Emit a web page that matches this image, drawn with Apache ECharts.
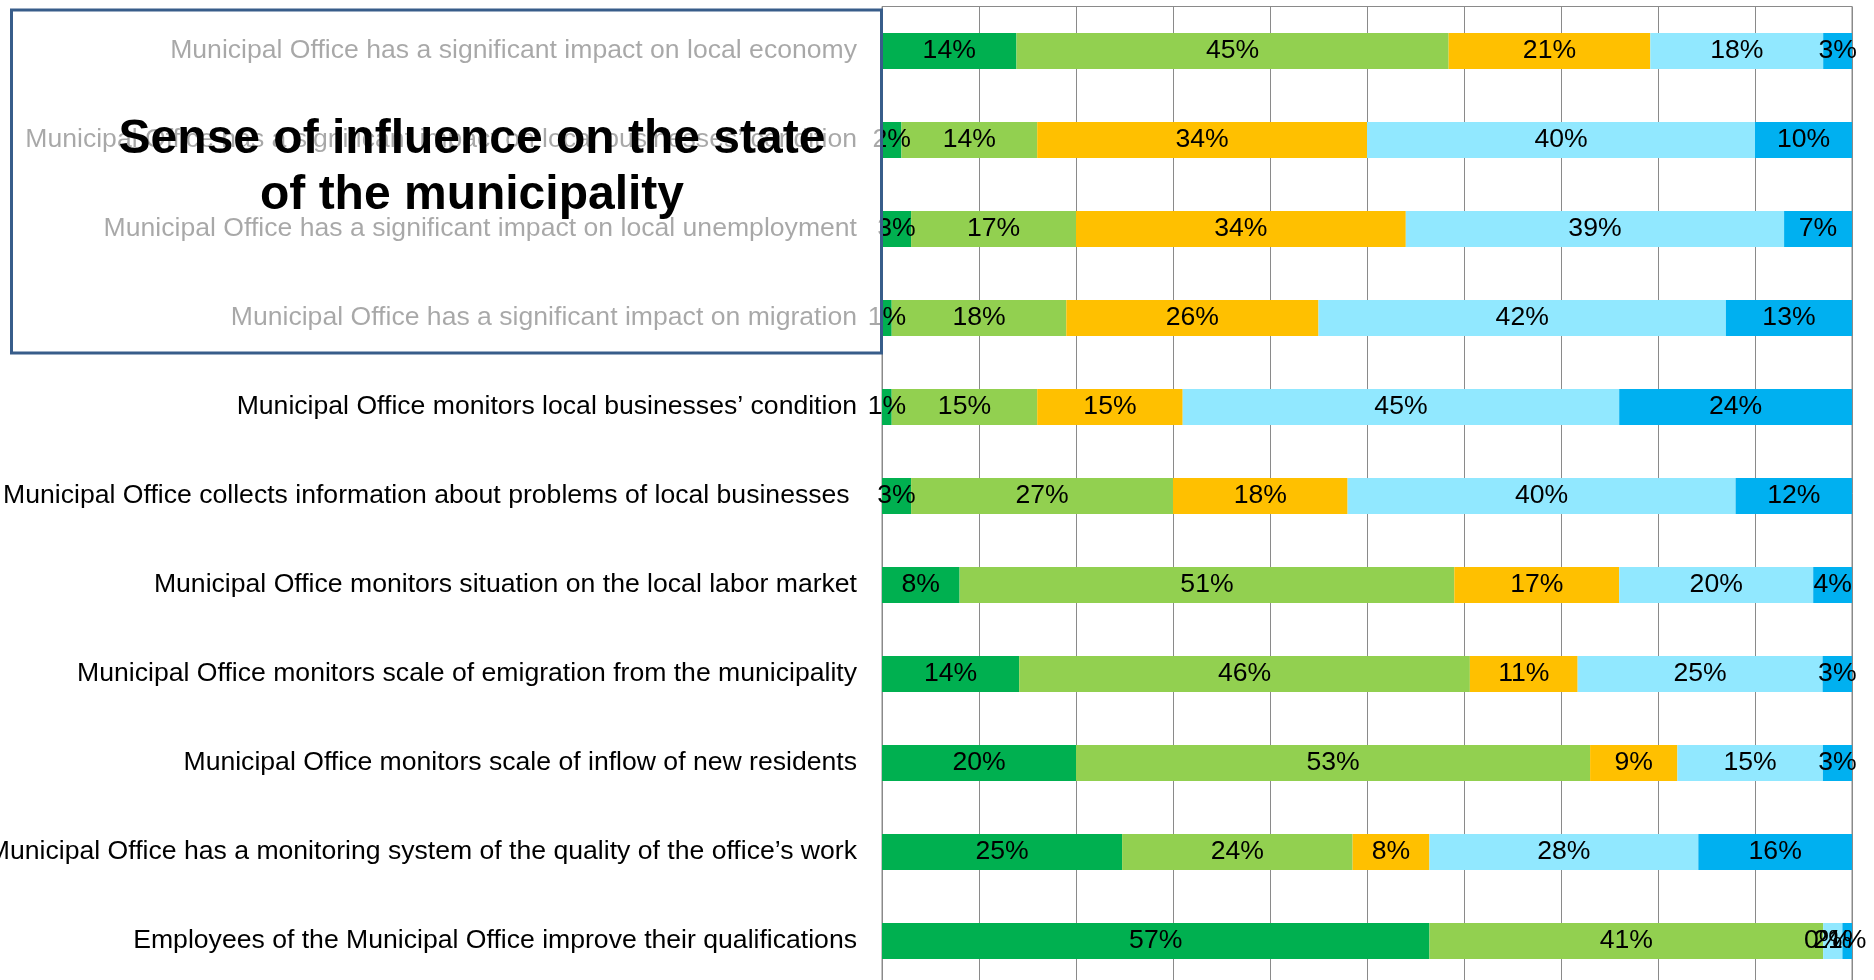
<!DOCTYPE html>
<html>
<head>
<meta charset="utf-8">
<title>Sense of influence on the state of the municipality</title>
<script src="https://cdn.jsdelivr.net/npm/echarts@6/dist/echarts.min.js"></script>
<style>
  html, body { margin: 0; padding: 0; background: #fff; }
  #main { width: 1874px; height: 980px; }
</style>
</head>
<body>
<div id="main"></div>
<script>
// categories, top to bottom
var categories = [
    'Municipal Office has a significant impact on local economy',
    'Municipal Office has a significant impact on local businesses\u2019 condition',
    'Municipal Office has a significant impact on local unemployment',
    'Municipal Office has a significant impact on migration',
    'Municipal Office monitors local businesses\u2019 condition',
    'Municipal Office collects information about problems of local businesses ',
    'Municipal Office monitors situation on the local labor market',
    'Municipal Office monitors scale of emigration from the municipality',
    'Municipal Office monitors scale of inflow of new residents',
    'Municipal Office has a monitoring system of the quality of the office\u2019s work',
    'Employees of the Municipal Office improve their qualifications'
];

// answer shares in %, one array per series (left to right in the bar)
var s1 = [14, 2, 3, 1, 1, 3, 8, 14, 20, 25, 57];
var s2 = [45, 14, 17, 18, 15, 27, 51, 46, 53, 24, 41];
var s3 = [21, 34, 34, 26, 15, 18, 17, 11, 9, 8, 0];
var s4 = [18, 40, 39, 42, 45, 40, 20, 25, 15, 28, 2];
var s5 = [3, 10, 7, 13, 24, 12, 4, 3, 3, 16, 1];

var colors = ['#00B050', '#92D050', '#FFC000', '#91E8FF', '#00B0F0'];
var raw = [s1, s2, s3, s4, s5];

// 100% stacked: each bar is scaled to its own total
var totals = categories.map(function (c, i) {
    return raw.reduce(function (a, s) { return a + s[i]; }, 0);
});

var font = '"Liberation Sans", Arial, sans-serif';

var myChart = echarts.init(document.getElementById('main'));

var series = raw.map(function (arr, k) {
    return {
        name: 's' + (k + 1),
        type: 'bar',
        stack: 'all',
        barWidth: 36,
        itemStyle: { color: colors[k] },
        label: {
            show: true,
            position: 'inside',
            color: '#000',
            fontSize: 26.6,
            fontFamily: font,
            formatter: function (p) { return arr[p.dataIndex] + '%'; }
        },
        data: arr.map(function (v, i) { return v / totals[i] * 100; })
    };
});

var option = {
    backgroundColor: '#fff',
    animation: false,
    textStyle: { fontFamily: font },
    title: {
        text: 'Sense of influence on the state\nof the municipality',
        left: 467,
        top: 107,
        textAlign: 'center',
        z: 20,
        textStyle: {
            fontSize: 48,
            fontWeight: 'bold',
            color: '#000',
            lineHeight: 56,
            fontFamily: font
        }
    },
    grid: {
        left: 882,
        right: 22,
        top: 6.5,
        height: 979,
        outerBoundsMode: 'none',
        containLabel: false,
        show: true,
        borderColor: '#8a8a8a',
        borderWidth: 1
    },
    xAxis: {
        type: 'value',
        min: 0,
        max: 100,
        interval: 10,
        axisLabel: { show: false },
        axisLine: { show: false },
        axisTick: { show: false },
        splitLine: { lineStyle: { color: '#8a8a8a', width: 1 } }
    },
    yAxis: {
        type: 'category',
        inverse: true,
        data: categories,
        axisLine: { lineStyle: { color: '#8a8a8a', width: 1 } },
        axisTick: { length: 8, lineStyle: { color: '#8a8a8a' } },
        axisLabel: {
            margin: 25,
            fontSize: 26.6,
            color: '#000',
            fontFamily: font
        }
    },
    graphic: [{
        type: 'rect',
        z: 10,
        shape: { x: 11.5, y: 10, width: 870, height: 343 },
        style: { fill: 'rgba(255,255,255,0.66)', stroke: '#385D8A', lineWidth: 3 }
    }],
    series: series
};

myChart.setOption(option);
</script>
</body>
</html>
